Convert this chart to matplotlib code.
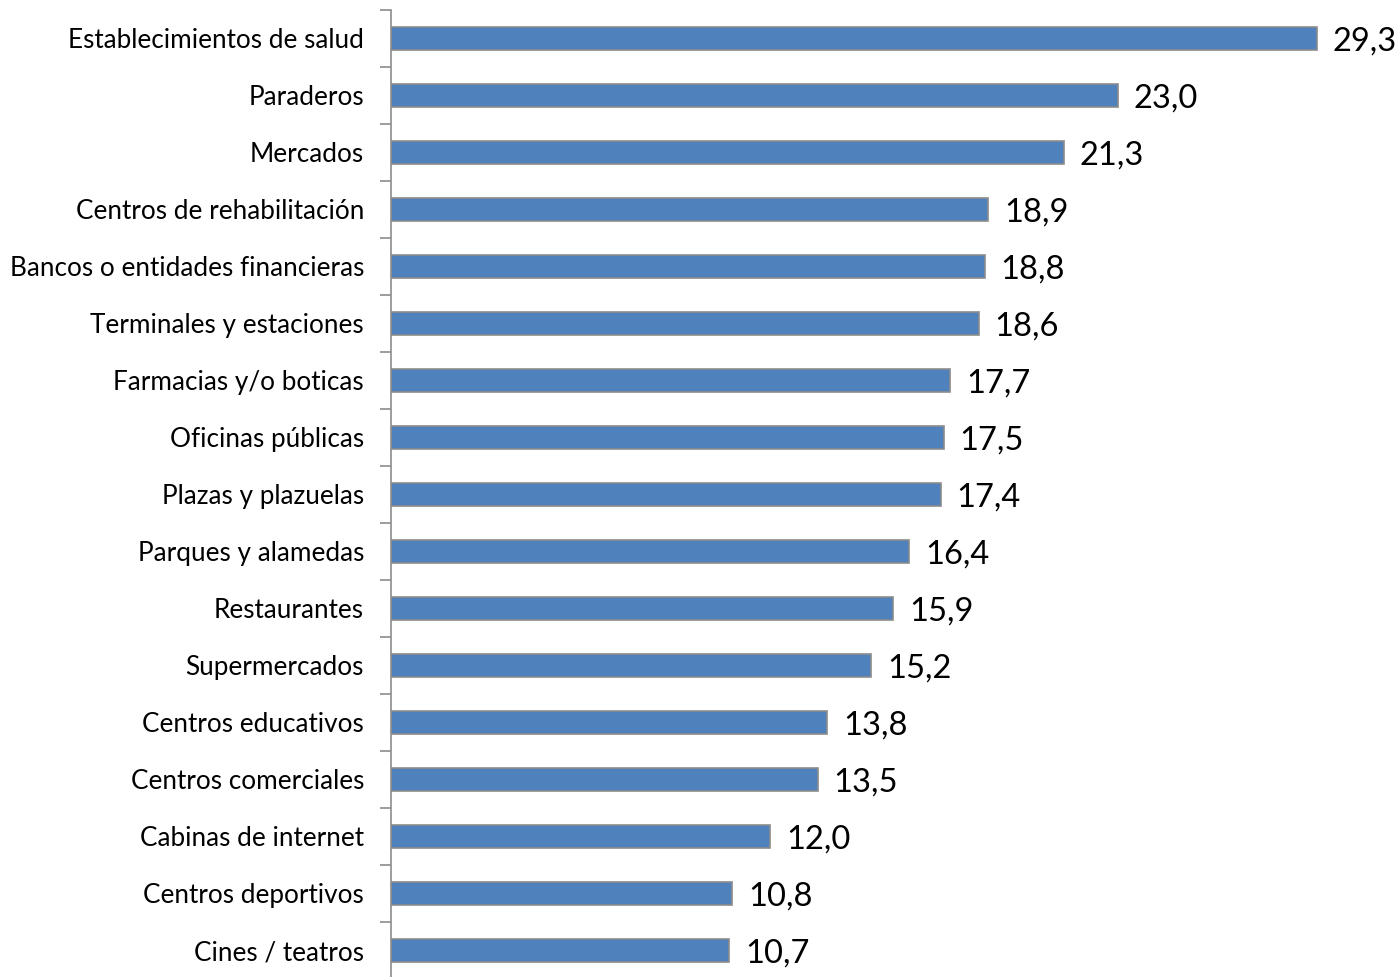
import matplotlib
matplotlib.use('Agg')
import matplotlib.pyplot as plt

categorias = ['Establecimientos de salud', 'Paraderos', 'Mercados',
              'Centros de rehabilitación', 'Bancos o entidades financieras',
              'Terminales y estaciones', 'Farmacias y/o boticas',
              'Oficinas públicas', 'Plazas y plazuelas', 'Parques y alamedas',
              'Restaurantes', 'Supermercados', 'Centros educativos',
              'Centros comerciales', 'Cabinas de internet',
              'Centros deportivos', 'Cines / teatros']
valores = [29.3, 23.0, 21.3, 18.9, 18.8, 18.6, 17.7, 17.5, 17.4, 16.4,
           15.9, 15.2, 13.8, 13.5, 12.0, 10.8, 10.7]

plt.rcParams['font.family'] = ['Lato', 'DejaVu Sans']

fig = plt.figure(figsize=(14, 9.77), dpi=100)
ax = fig.add_axes([0.2793, -0.002, 0.677, 0.9918])

n = len(categorias)
pos = list(range(n))[::-1]
ax.barh(pos, valores, height=0.4, color='#4F81BD', edgecolor='#8C8C8C', linewidth=1.2)

for p, v in zip(pos, valores):
    ax.text(v + 0.5, p - 0.05, '{:.1f}'.format(v).replace('.', ','),
            va='center', ha='left', fontsize=23.5)

ax.set_xlim(0, 30)
ax.set_ylim(-0.5, n - 0.5)
ax.set_yticks(pos)
ax.set_yticklabels(categorias, fontsize=18.8)
ax.set_yticks([i - 0.5 for i in range(n + 1)], minor=True)
ax.tick_params(axis='y', which='major', length=0, pad=19.5)
ax.tick_params(axis='y', which='minor', length=8, color='#8C8C8C', width=1.2)
ax.set_xticks([])
for s in ['top', 'right', 'bottom']:
    ax.spines[s].set_visible(False)
ax.spines['left'].set_color('#8C8C8C')
ax.spines['left'].set_linewidth(1.2)

fig.savefig('out.png', dpi=100)
